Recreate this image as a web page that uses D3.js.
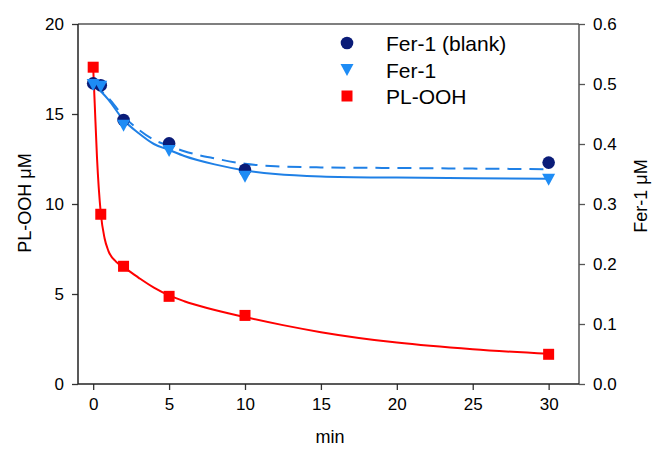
<!DOCTYPE html>
<html>
<head>
<meta charset="utf-8">
<script src="https://cdn.jsdelivr.net/npm/d3@7"></script>
<style>
  html, body { margin: 0; padding: 0; background: #fff; }
  svg { display: block; }
  text { font-family: "Liberation Sans", Arial, sans-serif; fill: #000; }
</style>
</head>
<body>
<svg id="chart" width="655" height="451"></svg>
<script>
// ---- data ----
const seriesNames = ["Fer-1 (blank)", "Fer-1", "PL-OOH"];
const timePoints = [0, 0.5, 2, 5, 10, 30];
const fer1BlankValues = [0.501, 0.498, 0.440, 0.401, 0.357, 0.369];   // right axis (µM)
const fer1Values      = [0.500, 0.497, 0.432, 0.390, 0.347, 0.342];   // right axis (µM)
const plOOHValues     = [17.6, 9.43, 6.54, 4.87, 3.81, 1.65];          // left axis (µM)

// fitted curves
const fitTimesBlue = [0, 0.5, 1, 2, 3, 4, 5, 6, 8, 10, 12, 15, 20, 25, 30];
const fer1FitValues      = [0.500, 0.488, 0.474, 0.440, 0.418, 0.400, 0.390, 0.380, 0.366, 0.356, 0.350, 0.346, 0.344, 0.343, 0.342];
const fer1BlankFitValues = [0.500, 0.489, 0.477, 0.446, 0.424, 0.407, 0.397, 0.388, 0.376, 0.367, 0.363, 0.361, 0.360, 0.359, 0.358];
const fitTimesRed = [0, 0.1, 0.25, 0.5, 0.75, 1, 1.5, 2, 3, 4, 5, 6, 7.5, 10, 12.5, 15, 17.5, 20, 25, 30];
const plOOHFitValues = [17.6, 15.6, 12.6, 9.5, 8.1, 7.4, 6.8, 6.5, 5.9, 5.35, 4.92, 4.6, 4.22, 3.72, 3.27, 2.88, 2.56, 2.3, 1.93, 1.68];

const xTicks = [0, 5, 10, 15, 20, 25, 30];
const yLeftTicks = [0, 5, 10, 15, 20];
const yRightTicks = [0, 0.1, 0.2, 0.3, 0.4, 0.5, 0.6];

// ---- layout ----
const svg = d3.select("#chart");
const L = 78, R = 579, T = 24, B = 384;

const x = d3.scaleLinear().domain([-1, 32]).range([L, R]);
const yL = d3.scaleLinear().domain([0, 20]).range([B, T]);
const yR = d3.scaleLinear().domain([0, 0.6]).range([B, T]);

const colRed = "#ff0000", colBlue = "#1f80e6", colTri = "#1e8cf5", colNavy = "#0a1c78";

// frame
svg.append("line").attr("x1", L).attr("x2", R).attr("y1", T).attr("y2", T).attr("stroke", "#555").attr("stroke-width", 1.5);
svg.append("line").attr("x1", R).attr("x2", R).attr("y1", T).attr("y2", B).attr("stroke", "#555").attr("stroke-width", 1.5);

// axes
const fs = "17px";
const gx = svg.append("g").attr("transform", `translate(0,${B})`)
  .call(d3.axisBottom(x).tickValues(xTicks).tickSize(6).tickSizeOuter(0).tickPadding(8));
const gyl = svg.append("g").attr("transform", `translate(${L},0)`)
  .call(d3.axisLeft(yL).tickValues(yLeftTicks).tickSize(6).tickSizeOuter(0).tickPadding(8));
const gyr = svg.append("g").attr("transform", `translate(${R},0)`)
  .call(d3.axisRight(yR).tickValues(yRightTicks).tickFormat(d3.format(".1f")).tickSize(6).tickSizeOuter(0).tickPadding(8));
[gx, gyl, gyr].forEach(g => {
  g.selectAll("text").style("font-size", fs).style("font-family", '"Liberation Sans", Arial, sans-serif').attr("fill", "#000");
  g.selectAll("line").attr("stroke", "#333").attr("stroke-width", 1.3);
  g.select(".domain").remove();
});
gyr.selectAll("line").attr("stroke", "#555");
svg.append("line").attr("x1", L).attr("x2", L).attr("y1", T).attr("y2", B).attr("stroke", "#222").attr("stroke-width", 1.5);
svg.append("line").attr("x1", L).attr("x2", R).attr("y1", B).attr("y2", B).attr("stroke", "#222").attr("stroke-width", 1.5);

// axis titles
svg.append("text").attr("x", 330).attr("y", 443).attr("text-anchor", "middle").style("font-size", "18px").text("min");
svg.append("text").attr("transform", "translate(31,203) rotate(-90)").attr("text-anchor", "middle").style("font-size", "18px").text("PL-OOH μM");
svg.append("text").attr("transform", "translate(647,196) rotate(-90)").attr("text-anchor", "middle").style("font-size", "18px").text("Fer-1  μM");

// curves
const lineR = d3.line().x(d => x(d[0])).y(d => yR(d[1])).curve(d3.curveMonotoneX);
const lineL = d3.line().x(d => x(d[0])).y(d => yL(d[1])).curve(d3.curveMonotoneX);

svg.append("path").datum(d3.zip(fitTimesBlue, fer1BlankFitValues)).attr("d", lineR)
  .attr("fill", "none").attr("stroke", colBlue).attr("stroke-width", 2).attr("stroke-dasharray", "14,8");
svg.append("path").datum(d3.zip(fitTimesBlue, fer1FitValues)).attr("d", lineR)
  .attr("fill", "none").attr("stroke", colBlue).attr("stroke-width", 2);
svg.append("path").datum(d3.zip(fitTimesRed, plOOHFitValues)).attr("d", lineL)
  .attr("fill", "none").attr("stroke", colRed).attr("stroke-width", 2);

// markers
const circ = d3.symbol().type(d3.symbolCircle).size(Math.PI * 6.3 * 6.3);
const tri = "M-6.5,-5 L6.5,-5 L0,7 Z";
const sq = d3.symbol().type(d3.symbolSquare).size(121);

svg.append("g").selectAll("path").data(d3.zip(timePoints, fer1BlankValues)).join("path")
  .attr("d", circ).attr("transform", d => `translate(${x(d[0])},${yR(d[1])})`).attr("fill", colNavy);
svg.append("g").selectAll("path").data(d3.zip(timePoints, fer1Values)).join("path")
  .attr("d", tri).attr("transform", d => `translate(${x(d[0])},${yR(d[1])})`).attr("fill", colTri);
svg.append("g").selectAll("path").data(d3.zip(timePoints, plOOHValues)).join("path")
  .attr("d", sq).attr("transform", d => `translate(${x(d[0])},${yL(d[1])})`).attr("fill", colRed);

// legend
const legend = svg.append("g");
const legY = [43, 70, 96];
legend.append("path").attr("d", circ).attr("transform", `translate(347,${legY[0]})`).attr("fill", colNavy);
legend.append("path").attr("d", tri).attr("transform", `translate(347,${legY[1] - 1})`).attr("fill", colTri);
legend.append("path").attr("d", sq).attr("transform", `translate(347,${legY[2]})`).attr("fill", colRed);
seriesNames.forEach((n, i) => {
  legend.append("text").attr("x", 386).attr("y", legY[i]).attr("dy", "0.36em").style("font-size", "21px").text(n);
});
</script>
</body>
</html>
